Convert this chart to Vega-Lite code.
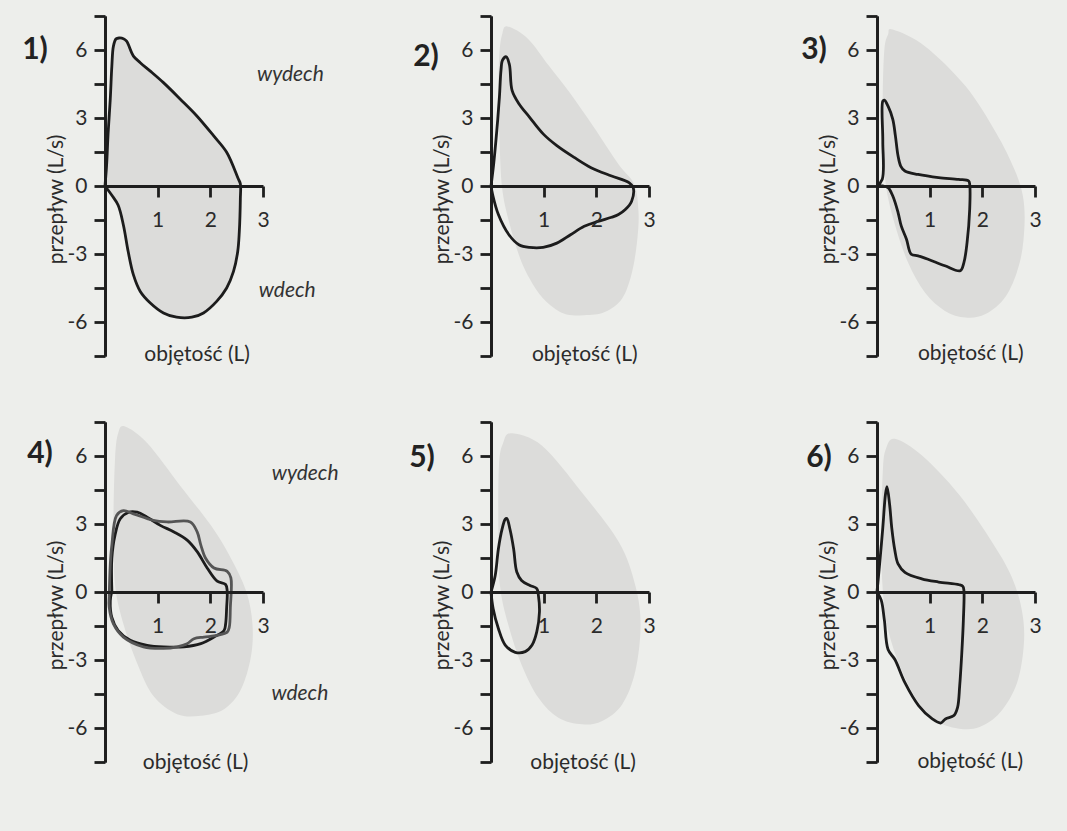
{
"$schema": "https://vega.github.io/schema/vega-lite/v6.json",
"background": "#edeeeb",
"padding": {"left": 22, "top": 14, "right": 27, "bottom": 57},
"datasets": {
"blob": [
{"p":2,"i":0,"x":0.31,"y":7.04},{"p":2,"i":1,"x":0.70,"y":6.50},{"p":2,"i":2,"x":1.10,"y":5.3},{"p":2,"i":3,"x":1.50,"y":4.1},{"p":2,"i":4,"x":1.95,"y":2.6},{"p":2,"i":5,"x":2.42,"y":0.96},{"p":2,"i":6,"x":2.72,"y":0.07},{"p":2,"i":7,"x":2.80,"y":-1.11},{"p":2,"i":8,"x":2.78,"y":-2.30},{"p":2,"i":9,"x":2.68,"y":-3.78},{"p":2,"i":10,"x":2.49,"y":-4.96},{"p":2,"i":11,"x":2.16,"y":-5.56},{"p":2,"i":12,"x":1.77,"y":-5.70},{"p":2,"i":13,"x":1.38,"y":-5.63},{"p":2,"i":14,"x":0.99,"y":-4.96},{"p":2,"i":15,"x":0.73,"y":-4.07},{"p":2,"i":16,"x":0.53,"y":-3.04},{"p":2,"i":17,"x":0.34,"y":-1.56},{"p":2,"i":18,"x":0.21,"y":-0.07},{"p":2,"i":19,"x":0.16,"y":2.15},{"p":2,"i":20,"x":0.14,"y":4.37},{"p":2,"i":21,"x":0.16,"y":5.85},{"p":2,"i":22,"x":0.21,"y":6.67},
{"p":3,"i":0,"x":0.30,"y":6.9},{"p":3,"i":1,"x":0.91,"y":6.17},{"p":3,"i":2,"x":1.68,"y":4.41},{"p":3,"i":3,"x":2.26,"y":2.35},{"p":3,"i":4,"x":2.61,"y":0.73},{"p":3,"i":5,"x":2.77,"y":-0.44},{"p":3,"i":6,"x":2.80,"y":-1.76},{"p":3,"i":7,"x":2.71,"y":-3.38},{"p":3,"i":8,"x":2.45,"y":-4.85},{"p":3,"i":9,"x":2.06,"y":-5.65},{"p":3,"i":10,"x":1.68,"y":-5.80},{"p":3,"i":11,"x":1.29,"y":-5.51},{"p":3,"i":12,"x":0.91,"y":-4.70},{"p":3,"i":13,"x":0.59,"y":-3.38},{"p":3,"i":14,"x":0.33,"y":-1.62},{"p":3,"i":15,"x":0.17,"y":0},{"p":3,"i":16,"x":0.11,"y":1.91},{"p":3,"i":17,"x":0.11,"y":4.11},{"p":3,"i":18,"x":0.14,"y":6.02},{"p":3,"i":19,"x":0.21,"y":6.68},
{"p":4,"i":0,"x":0.38,"y":7.3},{"p":4,"i":1,"x":0.80,"y":6.57},{"p":4,"i":2,"x":1.43,"y":4.68},{"p":4,"i":3,"x":2.01,"y":2.94},{"p":4,"i":4,"x":2.39,"y":1.49},{"p":4,"i":5,"x":2.68,"y":0.04},{"p":4,"i":6,"x":2.80,"y":-1.41},{"p":4,"i":7,"x":2.77,"y":-2.86},{"p":4,"i":8,"x":2.58,"y":-4.30},{"p":4,"i":9,"x":2.26,"y":-5.17},{"p":4,"i":10,"x":1.82,"y":-5.46},{"p":4,"i":11,"x":1.37,"y":-5.39},{"p":4,"i":12,"x":0.92,"y":-4.59},{"p":4,"i":13,"x":0.61,"y":-3.14},{"p":4,"i":14,"x":0.35,"y":-1.41},{"p":4,"i":15,"x":0.19,"y":0.33},{"p":4,"i":16,"x":0.16,"y":2.94},{"p":4,"i":17,"x":0.19,"y":5.84},{"p":4,"i":18,"x":0.25,"y":7.0},
{"p":5,"i":0,"x":0.39,"y":7.0},{"p":5,"i":1,"x":0.97,"y":6.45},{"p":5,"i":2,"x":1.73,"y":4.38},{"p":5,"i":3,"x":2.43,"y":2.19},{"p":5,"i":4,"x":2.74,"y":0.29},{"p":5,"i":5,"x":2.84,"y":-1.46},{"p":5,"i":6,"x":2.74,"y":-3.5},{"p":5,"i":7,"x":2.49,"y":-4.96},{"p":5,"i":8,"x":2.11,"y":-5.69},{"p":5,"i":9,"x":1.73,"y":-5.84},{"p":5,"i":10,"x":1.28,"y":-5.55},{"p":5,"i":11,"x":0.90,"y":-4.67},{"p":5,"i":12,"x":0.58,"y":-3.21},{"p":5,"i":13,"x":0.33,"y":-1.46},{"p":5,"i":14,"x":0.17,"y":0.29},{"p":5,"i":15,"x":0.14,"y":2.63},{"p":5,"i":16,"x":0.15,"y":5.55},{"p":5,"i":17,"x":0.23,"y":6.57},
{"p":6,"i":0,"x":0.34,"y":6.76},{"p":6,"i":1,"x":0.85,"y":6.03},{"p":6,"i":2,"x":1.56,"y":4.29},{"p":6,"i":3,"x":2.21,"y":2.11},{"p":6,"i":4,"x":2.56,"y":0.65},{"p":6,"i":5,"x":2.75,"y":-0.80},{"p":6,"i":6,"x":2.79,"y":-2.25},{"p":6,"i":7,"x":2.66,"y":-4.0},{"p":6,"i":8,"x":2.34,"y":-5.31},{"p":6,"i":9,"x":1.95,"y":-5.96},{"p":6,"i":10,"x":1.56,"y":-6.03},{"p":6,"i":11,"x":1.17,"y":-5.74},{"p":6,"i":12,"x":0.79,"y":-4.87},{"p":6,"i":13,"x":0.46,"y":-3.42},{"p":6,"i":14,"x":0.21,"y":-1.67},{"p":6,"i":15,"x":0.11,"y":0.07},{"p":6,"i":16,"x":0.08,"y":2.40},{"p":6,"i":17,"x":0.11,"y":5.31},{"p":6,"i":18,"x":0.17,"y":6.32}
],
"loop": [
{"p":1,"c":"A","i":0,"x":0,"y":0},{"p":1,"c":"A","i":1,"x":0.03,"y":0.91},{"p":1,"c":"A","i":2,"x":0.06,"y":2.37},{"p":1,"c":"A","i":3,"x":0.10,"y":3.83},{"p":1,"c":"A","i":4,"x":0.13,"y":5.29},{"p":1,"c":"A","i":5,"x":0.16,"y":6.17},{"p":1,"c":"A","i":6,"x":0.21,"y":6.49},{"p":1,"c":"A","i":7,"x":0.27,"y":6.53},{"p":1,"c":"A","i":8,"x":0.35,"y":6.50},{"p":1,"c":"A","i":9,"x":0.41,"y":6.39},{"p":1,"c":"A","i":10,"x":0.54,"y":5.73},{"p":1,"c":"A","i":11,"x":0.67,"y":5.44},{"p":1,"c":"A","i":12,"x":0.86,"y":5.07},{"p":1,"c":"A","i":13,"x":1.11,"y":4.56},{"p":1,"c":"A","i":14,"x":1.43,"y":3.83},{"p":1,"c":"A","i":15,"x":1.74,"y":3.10},{"p":1,"c":"A","i":16,"x":2.06,"y":2.22},{"p":1,"c":"A","i":17,"x":2.31,"y":1.49},{"p":1,"c":"A","i":18,"x":2.53,"y":0.32},{"p":1,"c":"A","i":19,"x":2.57,"y":0.1},{"p":1,"c":"A","i":20,"x":2.57,"y":-0.56},{"p":1,"c":"A","i":21,"x":2.55,"y":-2.02},{"p":1,"c":"A","i":22,"x":2.52,"y":-2.89},{"p":1,"c":"A","i":23,"x":2.44,"y":-3.77},{"p":1,"c":"A","i":24,"x":2.31,"y":-4.50},{"p":1,"c":"A","i":25,"x":2.12,"y":-5.09},{"p":1,"c":"A","i":26,"x":1.87,"y":-5.60},{"p":1,"c":"A","i":27,"x":1.65,"y":-5.79},{"p":1,"c":"A","i":28,"x":1.36,"y":-5.79},{"p":1,"c":"A","i":29,"x":1.11,"y":-5.60},{"p":1,"c":"A","i":30,"x":0.86,"y":-5.16},{"p":1,"c":"A","i":31,"x":0.67,"y":-4.65},{"p":1,"c":"A","i":32,"x":0.54,"y":-3.92},{"p":1,"c":"A","i":33,"x":0.44,"y":-2.89},{"p":1,"c":"A","i":34,"x":0.35,"y":-1.73},{"p":1,"c":"A","i":35,"x":0.25,"y":-0.85},{"p":1,"c":"A","i":36,"x":0.13,"y":-0.41},{"p":1,"c":"A","i":37,"x":0,"y":0},
{"p":2,"c":"A","i":0,"x":0,"y":0},{"p":2,"c":"A","i":1,"x":0.05,"y":0.96},{"p":2,"c":"A","i":2,"x":0.11,"y":2.44},{"p":2,"c":"A","i":3,"x":0.16,"y":3.93},{"p":2,"c":"A","i":4,"x":0.19,"y":5.11},{"p":2,"c":"A","i":5,"x":0.22,"y":5.56},{"p":2,"c":"A","i":6,"x":0.29,"y":5.70},{"p":2,"c":"A","i":7,"x":0.35,"y":5.35},{"p":2,"c":"A","i":8,"x":0.40,"y":4.22},{"p":2,"c":"A","i":9,"x":0.53,"y":3.63},{"p":2,"c":"A","i":10,"x":0.73,"y":3.04},{"p":2,"c":"A","i":11,"x":0.99,"y":2.30},{"p":2,"c":"A","i":12,"x":1.25,"y":1.78},{"p":2,"c":"A","i":13,"x":1.58,"y":1.26},{"p":2,"c":"A","i":14,"x":1.90,"y":0.81},{"p":2,"c":"A","i":15,"x":2.29,"y":0.44},{"p":2,"c":"A","i":16,"x":2.62,"y":0.15},{"p":2,"c":"A","i":17,"x":2.70,"y":-0.07},{"p":2,"c":"A","i":18,"x":2.67,"y":-0.67},{"p":2,"c":"A","i":19,"x":2.55,"y":-1.04},{"p":2,"c":"A","i":20,"x":2.42,"y":-1.26},{"p":2,"c":"A","i":21,"x":2.29,"y":-1.38},{"p":2,"c":"A","i":22,"x":2.03,"y":-1.56},{"p":2,"c":"A","i":23,"x":1.77,"y":-1.78},{"p":2,"c":"A","i":24,"x":1.51,"y":-2.15},{"p":2,"c":"A","i":25,"x":1.25,"y":-2.52},{"p":2,"c":"A","i":26,"x":0.99,"y":-2.71},{"p":2,"c":"A","i":27,"x":0.73,"y":-2.71},{"p":2,"c":"A","i":28,"x":0.53,"y":-2.59},{"p":2,"c":"A","i":29,"x":0.34,"y":-2.15},{"p":2,"c":"A","i":30,"x":0.14,"y":-1.26},{"p":2,"c":"A","i":31,"x":0.03,"y":-0.37},{"p":2,"c":"A","i":32,"x":0,"y":0},
{"p":3,"c":"A","i":0,"x":0,"y":0},{"p":3,"c":"A","i":1,"x":0.10,"y":0.3},{"p":3,"c":"A","i":2,"x":0.11,"y":2.0},{"p":3,"c":"A","i":3,"x":0.11,"y":3.74},{"p":3,"c":"A","i":4,"x":0.14,"y":3.79},{"p":3,"c":"A","i":5,"x":0.21,"y":3.52},{"p":3,"c":"A","i":6,"x":0.30,"y":2.94},{"p":3,"c":"A","i":7,"x":0.35,"y":2.20},{"p":3,"c":"A","i":8,"x":0.40,"y":1.32},{"p":3,"c":"A","i":9,"x":0.45,"y":0.88},{"p":3,"c":"A","i":10,"x":0.53,"y":0.66},{"p":3,"c":"A","i":11,"x":0.78,"y":0.51},{"p":3,"c":"A","i":12,"x":1.17,"y":0.37},{"p":3,"c":"A","i":13,"x":1.55,"y":0.29},{"p":3,"c":"A","i":14,"x":1.74,"y":0.22},{"p":3,"c":"A","i":15,"x":1.76,"y":0.07},{"p":3,"c":"A","i":16,"x":1.76,"y":-1.03},{"p":3,"c":"A","i":17,"x":1.71,"y":-2.50},{"p":3,"c":"A","i":18,"x":1.65,"y":-3.38},{"p":3,"c":"A","i":19,"x":1.58,"y":-3.74},{"p":3,"c":"A","i":20,"x":1.29,"y":-3.52},{"p":3,"c":"A","i":21,"x":0.97,"y":-3.23},{"p":3,"c":"A","i":22,"x":0.78,"y":-3.08},{"p":3,"c":"A","i":23,"x":0.65,"y":-3.01},{"p":3,"c":"A","i":24,"x":0.56,"y":-2.35},{"p":3,"c":"A","i":25,"x":0.46,"y":-1.76},{"p":3,"c":"A","i":26,"x":0.40,"y":-1.17},{"p":3,"c":"A","i":27,"x":0.30,"y":-0.44},{"p":3,"c":"A","i":28,"x":0.21,"y":-0.07},{"p":3,"c":"A","i":29,"x":0.11,"y":0},{"p":3,"c":"A","i":30,"x":0,"y":0},
{"p":4,"c":"A","i":0,"x":0.13,"y":0.04},{"p":4,"c":"A","i":1,"x":0.13,"y":1.49},{"p":4,"c":"A","i":2,"x":0.19,"y":2.51},{"p":4,"c":"A","i":3,"x":0.29,"y":3.23},{"p":4,"c":"A","i":4,"x":0.45,"y":3.52},{"p":4,"c":"A","i":5,"x":0.61,"y":3.52},{"p":4,"c":"A","i":6,"x":0.80,"y":3.30},{"p":4,"c":"A","i":7,"x":1.05,"y":2.94},{"p":4,"c":"A","i":8,"x":1.31,"y":2.65},{"p":4,"c":"A","i":9,"x":1.56,"y":2.29},{"p":4,"c":"A","i":10,"x":1.75,"y":1.78},{"p":4,"c":"A","i":11,"x":1.94,"y":1.06},{"p":4,"c":"A","i":12,"x":2.13,"y":0.48},{"p":4,"c":"A","i":13,"x":2.29,"y":0.33},{"p":4,"c":"A","i":14,"x":2.32,"y":0.04},{"p":4,"c":"A","i":15,"x":2.31,"y":-0.68},{"p":4,"c":"A","i":16,"x":2.29,"y":-1.41},{"p":4,"c":"A","i":17,"x":2.26,"y":-1.70},{"p":4,"c":"A","i":18,"x":2.07,"y":-1.99},{"p":4,"c":"A","i":19,"x":1.82,"y":-2.28},{"p":4,"c":"A","i":20,"x":1.50,"y":-2.42},{"p":4,"c":"A","i":21,"x":1.11,"y":-2.42},{"p":4,"c":"A","i":22,"x":0.80,"y":-2.35},{"p":4,"c":"A","i":23,"x":0.48,"y":-2.13},{"p":4,"c":"A","i":24,"x":0.25,"y":-1.70},{"p":4,"c":"A","i":25,"x":0.13,"y":-1.12},{"p":4,"c":"A","i":26,"x":0.10,"y":-0.39},{"p":4,"c":"A","i":27,"x":0.13,"y":0.04},
{"p":4,"c":"B","i":0,"x":0.08,"y":-0.2},{"p":4,"c":"B","i":1,"x":0.10,"y":1.20},{"p":4,"c":"B","i":2,"x":0.13,"y":2.07},{"p":4,"c":"B","i":3,"x":0.22,"y":3.38},{"p":4,"c":"B","i":4,"x":0.35,"y":3.59},{"p":4,"c":"B","i":5,"x":0.54,"y":3.45},{"p":4,"c":"B","i":6,"x":0.92,"y":3.16},{"p":4,"c":"B","i":7,"x":1.18,"y":3.09},{"p":4,"c":"B","i":8,"x":1.62,"y":3.09},{"p":4,"c":"B","i":9,"x":1.75,"y":2.65},{"p":4,"c":"B","i":10,"x":1.82,"y":2.07},{"p":4,"c":"B","i":11,"x":1.91,"y":1.49},{"p":4,"c":"B","i":12,"x":2.07,"y":1.06},{"p":4,"c":"B","i":13,"x":2.32,"y":0.91},{"p":4,"c":"B","i":14,"x":2.39,"y":0.62},{"p":4,"c":"B","i":15,"x":2.38,"y":-0.68},{"p":4,"c":"B","i":16,"x":2.36,"y":-1.55},{"p":4,"c":"B","i":17,"x":2.32,"y":-1.77},{"p":4,"c":"B","i":18,"x":2.13,"y":-1.91},{"p":4,"c":"B","i":19,"x":1.88,"y":-1.99},{"p":4,"c":"B","i":20,"x":1.69,"y":-2.06},{"p":4,"c":"B","i":21,"x":1.56,"y":-2.28},{"p":4,"c":"B","i":22,"x":1.37,"y":-2.42},{"p":4,"c":"B","i":23,"x":1.11,"y":-2.49},{"p":4,"c":"B","i":24,"x":0.73,"y":-2.42},{"p":4,"c":"B","i":25,"x":0.35,"y":-1.99},{"p":4,"c":"B","i":26,"x":0.16,"y":-1.41},{"p":4,"c":"B","i":27,"x":0.08,"y":-0.68},{"p":4,"c":"B","i":28,"x":0.08,"y":-0.2},
{"p":5,"c":"A","i":0,"x":0,"y":0},{"p":5,"c":"A","i":1,"x":0.08,"y":0.73},{"p":5,"c":"A","i":2,"x":0.14,"y":1.90},{"p":5,"c":"A","i":3,"x":0.21,"y":2.77},{"p":5,"c":"A","i":4,"x":0.27,"y":3.21},{"p":5,"c":"A","i":5,"x":0.30,"y":3.24},{"p":5,"c":"A","i":6,"x":0.36,"y":2.77},{"p":5,"c":"A","i":7,"x":0.43,"y":1.90},{"p":5,"c":"A","i":8,"x":0.49,"y":0.88},{"p":5,"c":"A","i":9,"x":0.58,"y":0.51},{"p":5,"c":"A","i":10,"x":0.74,"y":0.29},{"p":5,"c":"A","i":11,"x":0.87,"y":0.15},{"p":5,"c":"A","i":12,"x":0.90,"y":-0.15},{"p":5,"c":"A","i":13,"x":0.92,"y":-0.88},{"p":5,"c":"A","i":14,"x":0.87,"y":-1.75},{"p":5,"c":"A","i":15,"x":0.78,"y":-2.34},{"p":5,"c":"A","i":16,"x":0.65,"y":-2.63},{"p":5,"c":"A","i":17,"x":0.46,"y":-2.66},{"p":5,"c":"A","i":18,"x":0.27,"y":-2.34},{"p":5,"c":"A","i":19,"x":0.14,"y":-1.61},{"p":5,"c":"A","i":20,"x":0.04,"y":-0.73},{"p":5,"c":"A","i":21,"x":0,"y":0},
{"p":6,"c":"A","i":0,"x":0,"y":0},{"p":6,"c":"A","i":1,"x":0.05,"y":1.24},{"p":6,"c":"A","i":2,"x":0.11,"y":2.83},{"p":6,"c":"A","i":3,"x":0.16,"y":4.29},{"p":6,"c":"A","i":4,"x":0.19,"y":4.65},{"p":6,"c":"A","i":5,"x":0.24,"y":3.85},{"p":6,"c":"A","i":6,"x":0.28,"y":2.83},{"p":6,"c":"A","i":7,"x":0.34,"y":1.82},{"p":6,"c":"A","i":8,"x":0.40,"y":1.24},{"p":6,"c":"A","i":9,"x":0.53,"y":0.87},{"p":6,"c":"A","i":10,"x":0.85,"y":0.58},{"p":6,"c":"A","i":11,"x":1.17,"y":0.44},{"p":6,"c":"A","i":12,"x":1.56,"y":0.32},{"p":6,"c":"A","i":13,"x":1.63,"y":0.25},{"p":6,"c":"A","i":14,"x":1.65,"y":0.07},{"p":6,"c":"A","i":15,"x":1.64,"y":-1.24},{"p":6,"c":"A","i":16,"x":1.61,"y":-2.69},{"p":6,"c":"A","i":17,"x":1.57,"y":-4.14},{"p":6,"c":"A","i":18,"x":1.53,"y":-5.09},{"p":6,"c":"A","i":19,"x":1.46,"y":-5.45},{"p":6,"c":"A","i":20,"x":1.30,"y":-5.60},{"p":6,"c":"A","i":21,"x":1.21,"y":-5.78},{"p":6,"c":"A","i":22,"x":1.05,"y":-5.60},{"p":6,"c":"A","i":23,"x":0.79,"y":-5.01},{"p":6,"c":"A","i":24,"x":0.53,"y":-4.0},{"p":6,"c":"A","i":25,"x":0.34,"y":-2.98},{"p":6,"c":"A","i":26,"x":0.21,"y":-2.54},{"p":6,"c":"A","i":27,"x":0.14,"y":-1.24},{"p":6,"c":"A","i":28,"x":0.08,"y":-0.36},{"p":6,"c":"A","i":29,"x":0,"y":0}
]
},
"columns": 3,
"bounds": "flush",
"spacing": {"row": 66, "column": 228},
"concat": [
{"width":158,"height":340,"resolve":{"axis":{"x":"independent","y":"independent"}},
"layer":[
{"data":{"name":"loop"},"transform":[{"filter":"datum.p == 1"}],"mark":{"type":"line","fill":"#dcdcda","strokeWidth":2.8,"interpolate":"catmull-rom"},"encoding":{"x":{"field":"x","type":"quantitative","scale":{"domain":[0,3],"nice":false,"zero":false},"axis":{"orient":"bottom","values":[1,2,3],"title":null,"offset":-170,"labelPadding":12,"zindex":1}},"y":{"field":"y","type":"quantitative","scale":{"domain":[-7.5,7.5],"nice":false,"zero":false},"axis":{"orient":"left","values":[-6,-3,0,3,6],"title":"przepływ (L/s)","titlePadding":1,"labelPadding":7,"titleY":183,"zindex":1}},"order":{"field":"i","type":"quantitative"},"detail":{"field":"c","type":"nominal"},"stroke":{"field":"c","type":"nominal","scale":{"domain":["A","B"],"range":["#1c1c1c","#555555"]},"legend":null}}},
{"data":{"values":[{}]},"mark":{"type":"text","text":"1)","fontSize":30,"fontWeight":"bold","dx":-70,"align":"center","baseline":"middle","color":"#222222"},"encoding":{"x":{"datum":0,"axis":null},"y":{"datum":6,"axis":{"orient":"left","values":[-7.5,-4.5,-1.5,1.5,4.5,7.5],"labels":false,"title":null,"zindex":1}}}},
{"data":{"values":[{}]},"mark":{"type":"text","text":"objętość (L)","fontSize":21,"align":"center","baseline":"middle","color":"#2b2b2b"},"encoding":{"x":{"datum":1.75,"axis":null},"y":{"datum":-7.45,"axis":null}}},
{"data":{"values":[{}]},"mark":{"type":"text","text":"wydech","fontSize":21,"fontStyle":"italic","align":"center","baseline":"middle","color":"#333333"},"encoding":{"x":{"datum":3.52,"axis":null},"y":{"datum":4.9,"axis":null}}},
{"data":{"values":[{}]},"mark":{"type":"text","text":"wdech","fontSize":21,"fontStyle":"italic","align":"center","baseline":"middle","color":"#333333"},"encoding":{"x":{"datum":3.46,"axis":null},"y":{"datum":-4.65,"axis":null}}}
]},
{"width":158,"height":340,"resolve":{"axis":{"x":"independent","y":"independent"}},
"layer":[
{"data":{"name":"blob"},"transform":[{"filter":"datum.p == 2"}],"mark":{"type":"line","fill":"#dcdcda","strokeOpacity":0,"interpolate":"cardinal-closed"},"encoding":{"x":{"field":"x","type":"quantitative","scale":{"domain":[0,3],"nice":false,"zero":false},"axis":null},"y":{"field":"y","type":"quantitative","scale":{"domain":[-7.5,7.5],"nice":false,"zero":false},"axis":null},"order":{"field":"i","type":"quantitative"}}},
{"data":{"name":"loop"},"transform":[{"filter":"datum.p == 2"}],"mark":{"type":"line","strokeWidth":2.8,"interpolate":"catmull-rom"},"encoding":{"x":{"field":"x","type":"quantitative","scale":{"domain":[0,3],"nice":false,"zero":false},"axis":{"orient":"bottom","values":[1,2,3],"title":null,"offset":-170,"labelPadding":12,"zindex":1}},"y":{"field":"y","type":"quantitative","scale":{"domain":[-7.5,7.5],"nice":false,"zero":false},"axis":{"orient":"left","values":[-6,-3,0,3,6],"title":"przepływ (L/s)","titlePadding":1,"labelPadding":7,"titleY":183,"zindex":1}},"order":{"field":"i","type":"quantitative"},"detail":{"field":"c","type":"nominal"},"stroke":{"field":"c","type":"nominal","scale":{"domain":["A","B"],"range":["#1c1c1c","#555555"]},"legend":null}}},
{"data":{"values":[{}]},"mark":{"type":"text","text":"2)","fontSize":30,"fontWeight":"bold","dx":-65,"align":"center","baseline":"middle","color":"#222222"},"encoding":{"x":{"datum":0,"axis":null},"y":{"datum":5.7,"axis":{"orient":"left","values":[-7.5,-4.5,-1.5,1.5,4.5,7.5],"labels":false,"title":null,"zindex":1}}}},
{"data":{"values":[{}]},"mark":{"type":"text","text":"objętość (L)","fontSize":21,"align":"center","baseline":"middle","color":"#2b2b2b"},"encoding":{"x":{"datum":1.78,"axis":null},"y":{"datum":-7.45,"axis":null}}}
]},
{"width":158,"height":340,"resolve":{"axis":{"x":"independent","y":"independent"}},
"layer":[
{"data":{"name":"blob"},"transform":[{"filter":"datum.p == 3"}],"mark":{"type":"line","fill":"#dcdcda","strokeOpacity":0,"interpolate":"cardinal-closed"},"encoding":{"x":{"field":"x","type":"quantitative","scale":{"domain":[0,3],"nice":false,"zero":false},"axis":null},"y":{"field":"y","type":"quantitative","scale":{"domain":[-7.5,7.5],"nice":false,"zero":false},"axis":null},"order":{"field":"i","type":"quantitative"}}},
{"data":{"name":"loop"},"transform":[{"filter":"datum.p == 3"}],"mark":{"type":"line","strokeWidth":2.8,"interpolate":"catmull-rom"},"encoding":{"x":{"field":"x","type":"quantitative","scale":{"domain":[0,3],"nice":false,"zero":false},"axis":{"orient":"bottom","values":[1,2,3],"title":null,"offset":-170,"labelPadding":12,"zindex":1}},"y":{"field":"y","type":"quantitative","scale":{"domain":[-7.5,7.5],"nice":false,"zero":false},"axis":{"orient":"left","values":[-6,-3,0,3,6],"title":"przepływ (L/s)","titlePadding":1,"labelPadding":7,"titleY":183,"zindex":1}},"order":{"field":"i","type":"quantitative"},"detail":{"field":"c","type":"nominal"},"stroke":{"field":"c","type":"nominal","scale":{"domain":["A","B"],"range":["#1c1c1c","#555555"]},"legend":null}}},
{"data":{"values":[{}]},"mark":{"type":"text","text":"3)","fontSize":30,"fontWeight":"bold","dx":-63,"align":"center","baseline":"middle","color":"#222222"},"encoding":{"x":{"datum":0,"axis":null},"y":{"datum":6,"axis":{"orient":"left","values":[-7.5,-4.5,-1.5,1.5,4.5,7.5],"labels":false,"title":null,"zindex":1}}}},
{"data":{"values":[{}]},"mark":{"type":"text","text":"objętość (L)","fontSize":21,"align":"center","baseline":"middle","color":"#2b2b2b"},"encoding":{"x":{"datum":1.78,"axis":null},"y":{"datum":-7.4,"axis":null}}}
]},
{"width":158,"height":340,"resolve":{"axis":{"x":"independent","y":"independent"}},
"layer":[
{"data":{"name":"blob"},"transform":[{"filter":"datum.p == 4"}],"mark":{"type":"line","fill":"#dcdcda","strokeOpacity":0,"interpolate":"cardinal-closed"},"encoding":{"x":{"field":"x","type":"quantitative","scale":{"domain":[0,3],"nice":false,"zero":false},"axis":null},"y":{"field":"y","type":"quantitative","scale":{"domain":[-7.5,7.5],"nice":false,"zero":false},"axis":null},"order":{"field":"i","type":"quantitative"}}},
{"data":{"name":"loop"},"transform":[{"filter":"datum.p == 4"}],"mark":{"type":"line","strokeWidth":2.8,"interpolate":"catmull-rom"},"encoding":{"x":{"field":"x","type":"quantitative","scale":{"domain":[0,3],"nice":false,"zero":false},"axis":{"orient":"bottom","values":[1,2,3],"title":null,"offset":-170,"labelPadding":12,"zindex":1}},"y":{"field":"y","type":"quantitative","scale":{"domain":[-7.5,7.5],"nice":false,"zero":false},"axis":{"orient":"left","values":[-6,-3,0,3,6],"title":"przepływ (L/s)","titlePadding":1,"labelPadding":7,"titleY":183,"zindex":1}},"order":{"field":"i","type":"quantitative"},"detail":{"field":"c","type":"nominal"},"stroke":{"field":"c","type":"nominal","scale":{"domain":["A","B"],"range":["#1c1c1c","#555555"]},"legend":null}}},
{"data":{"values":[{}]},"mark":{"type":"text","text":"4)","fontSize":30,"fontWeight":"bold","dx":-65,"align":"center","baseline":"middle","color":"#222222"},"encoding":{"x":{"datum":0,"axis":null},"y":{"datum":6.1,"axis":{"orient":"left","values":[-7.5,-4.5,-1.5,1.5,4.5,7.5],"labels":false,"title":null,"zindex":1}}}},
{"data":{"values":[{}]},"mark":{"type":"text","text":"objętość (L)","fontSize":21,"align":"center","baseline":"middle","color":"#2b2b2b"},"encoding":{"x":{"datum":1.72,"axis":null},"y":{"datum":-7.55,"axis":null}}},
{"data":{"values":[{}]},"mark":{"type":"text","text":"wydech","fontSize":21,"fontStyle":"italic","align":"center","baseline":"middle","color":"#333333"},"encoding":{"x":{"datum":3.8,"axis":null},"y":{"datum":5.2,"axis":null}}},
{"data":{"values":[{}]},"mark":{"type":"text","text":"wdech","fontSize":21,"fontStyle":"italic","align":"center","baseline":"middle","color":"#333333"},"encoding":{"x":{"datum":3.7,"axis":null},"y":{"datum":-4.5,"axis":null}}}
]},
{"width":158,"height":340,"resolve":{"axis":{"x":"independent","y":"independent"}},
"layer":[
{"data":{"name":"blob"},"transform":[{"filter":"datum.p == 5"}],"mark":{"type":"line","fill":"#dcdcda","strokeOpacity":0,"interpolate":"cardinal-closed"},"encoding":{"x":{"field":"x","type":"quantitative","scale":{"domain":[0,3],"nice":false,"zero":false},"axis":null},"y":{"field":"y","type":"quantitative","scale":{"domain":[-7.5,7.5],"nice":false,"zero":false},"axis":null},"order":{"field":"i","type":"quantitative"}}},
{"data":{"name":"loop"},"transform":[{"filter":"datum.p == 5"}],"mark":{"type":"line","strokeWidth":2.8,"interpolate":"catmull-rom"},"encoding":{"x":{"field":"x","type":"quantitative","scale":{"domain":[0,3],"nice":false,"zero":false},"axis":{"orient":"bottom","values":[1,2,3],"title":null,"offset":-170,"labelPadding":12,"zindex":1}},"y":{"field":"y","type":"quantitative","scale":{"domain":[-7.5,7.5],"nice":false,"zero":false},"axis":{"orient":"left","values":[-6,-3,0,3,6],"title":"przepływ (L/s)","titlePadding":1,"labelPadding":7,"titleY":183,"zindex":1}},"order":{"field":"i","type":"quantitative"},"detail":{"field":"c","type":"nominal"},"stroke":{"field":"c","type":"nominal","scale":{"domain":["A","B"],"range":["#1c1c1c","#555555"]},"legend":null}}},
{"data":{"values":[{}]},"mark":{"type":"text","text":"5)","fontSize":30,"fontWeight":"bold","dx":-69,"align":"center","baseline":"middle","color":"#222222"},"encoding":{"x":{"datum":0,"axis":null},"y":{"datum":5.9,"axis":{"orient":"left","values":[-7.5,-4.5,-1.5,1.5,4.5,7.5],"labels":false,"title":null,"zindex":1}}}},
{"data":{"values":[{}]},"mark":{"type":"text","text":"objętość (L)","fontSize":21,"align":"center","baseline":"middle","color":"#2b2b2b"},"encoding":{"x":{"datum":1.75,"axis":null},"y":{"datum":-7.55,"axis":null}}}
]},
{"width":158,"height":340,"resolve":{"axis":{"x":"independent","y":"independent"}},
"layer":[
{"data":{"name":"blob"},"transform":[{"filter":"datum.p == 6"}],"mark":{"type":"line","fill":"#dcdcda","strokeOpacity":0,"interpolate":"cardinal-closed"},"encoding":{"x":{"field":"x","type":"quantitative","scale":{"domain":[0,3],"nice":false,"zero":false},"axis":null},"y":{"field":"y","type":"quantitative","scale":{"domain":[-7.5,7.5],"nice":false,"zero":false},"axis":null},"order":{"field":"i","type":"quantitative"}}},
{"data":{"name":"loop"},"transform":[{"filter":"datum.p == 6"}],"mark":{"type":"line","strokeWidth":2.8,"interpolate":"catmull-rom"},"encoding":{"x":{"field":"x","type":"quantitative","scale":{"domain":[0,3],"nice":false,"zero":false},"axis":{"orient":"bottom","values":[1,2,3],"title":null,"offset":-170,"labelPadding":12,"zindex":1}},"y":{"field":"y","type":"quantitative","scale":{"domain":[-7.5,7.5],"nice":false,"zero":false},"axis":{"orient":"left","values":[-6,-3,0,3,6],"title":"przepływ (L/s)","titlePadding":1,"labelPadding":7,"titleY":183,"zindex":1}},"order":{"field":"i","type":"quantitative"},"detail":{"field":"c","type":"nominal"},"stroke":{"field":"c","type":"nominal","scale":{"domain":["A","B"],"range":["#1c1c1c","#555555"]},"legend":null}}},
{"data":{"values":[{}]},"mark":{"type":"text","text":"6)","fontSize":30,"fontWeight":"bold","dx":-58,"align":"center","baseline":"middle","color":"#222222"},"encoding":{"x":{"datum":0,"axis":null},"y":{"datum":5.9,"axis":{"orient":"left","values":[-7.5,-4.5,-1.5,1.5,4.5,7.5],"labels":false,"title":null,"zindex":1}}}},
{"data":{"values":[{}]},"mark":{"type":"text","text":"objętość (L)","fontSize":21,"align":"center","baseline":"middle","color":"#2b2b2b"},"encoding":{"x":{"datum":1.77,"axis":null},"y":{"datum":-7.5,"axis":null}}}
]}
],
"config": {
"locale": {"number": {"decimal": ".", "thousands": ",", "grouping": [3], "currency": ["", ""], "minus": "-"}},
"view": {"stroke": null},
"font": "Lato",
"text": {"font": "Lato"},
"axis": {"grid": false, "domainColor": "#1e1e1e", "domainWidth": 2.8, "tickColor": "#1e1e1e", "tickWidth": 2.8, "tickSize": 11, "labelFont": "Lato", "labelFontSize": 21, "labelColor": "#2b2b2b", "titleFont": "Lato", "titleFontSize": 21, "titleFontWeight": "normal", "titleColor": "#2b2b2b", "labelFlush": false, "labelOverlap": false}
}
}
